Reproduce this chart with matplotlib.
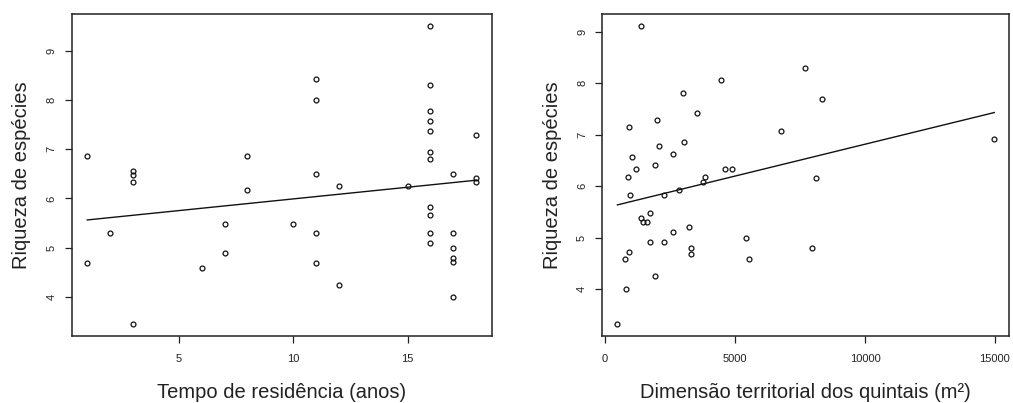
import numpy as np
import matplotlib
matplotlib.use("Agg")
import matplotlib.pyplot as plt

plt.rcParams['font.family'] = ['Liberation Sans', 'DejaVu Sans']

# Tempo de residência (anos) x riqueza
tempo = [1, 1, 2, 3, 3, 3, 3, 6, 7, 7, 8, 8, 10, 11, 11, 11, 11, 11, 12, 12, 15,
         16, 16, 16, 16, 16, 16, 16, 16, 16, 16, 16, 17, 17, 17, 17, 17, 17, 18, 18, 18]
riqueza_tempo = [6.86, 4.68, 5.30, 6.55, 6.48, 6.33, 3.45, 4.59, 5.48, 4.90, 6.87, 6.17,
                 5.48, 8.43, 8.00, 6.49, 5.30, 4.69, 6.25, 4.25, 6.25,
                 9.50, 8.31, 7.77, 7.57, 7.36, 6.95, 6.79, 5.82, 5.66, 5.30, 5.10,
                 6.49, 5.30, 5.00, 4.80, 4.70, 4.00, 7.28, 6.42, 6.34]

# Dimensão territorial (m²) x riqueza
area = [1370, 4476, 2980, 3542, 1982, 921, 3030, 2084, 2621, 1023, 1930, 1189, 4603,
        4872, 895, 3862, 3760, 2839, 2250, 959, 1714, 1369, 1458, 1598, 2621, 3222,
        5435, 1726, 2276, 3299, 3299, 921, 780, 5524, 1930, 818, 473, 7685, 8350,
        6765, 14975, 8133, 7967]
riqueza_area = [9.11, 8.06, 7.81, 7.42, 7.28, 7.14, 6.85, 6.78, 6.62, 6.56, 6.41, 6.33,
                6.33, 6.33, 6.17, 6.17, 6.08, 5.93, 5.82, 5.82, 5.47, 5.38, 5.30, 5.30,
                5.11, 5.20, 5.00, 4.91, 4.91, 4.80, 4.69, 4.71, 4.59, 4.59, 4.25, 4.01,
                3.32, 8.30, 7.69, 7.07, 6.92, 6.16, 4.80]

ticks_tempo = [5, 10, 15]
ticks_area = [0, 5000, 10000, 15000]
ticks_riqueza = [4, 5, 6, 7, 8, 9]

fig = plt.figure(figsize=(10.13, 4.03), dpi=100)
ax1 = fig.add_axes([0.0708, 0.1663, 0.4146, 0.799])
ax2 = fig.add_axes([0.5946, 0.1663, 0.4018, 0.799])

paineis = [
    (ax1, tempo, riqueza_tempo, ticks_tempo, 'Tempo de residência (anos)'),
    (ax2, area, riqueza_area, ticks_area, 'Dimensão territorial dos quintais (m²)'),
]

for ax, x, y, xt, rotulo in paineis:
    x = np.array(x, dtype=float)
    y = np.array(y, dtype=float)
    ax.plot(x, y, 'o', mfc='none', mec='#111111', ms=3.5, mew=0.9)
    # reta de regressão linear, do menor ao maior x
    b, a = np.polyfit(x, y, 1)
    xs = np.array([x.min(), x.max()])
    ax.plot(xs, a + b * xs, color='#111111', lw=1.0)
    # limites como o R (4% de folga)
    dx = (x.max() - x.min()) * 0.04
    dy = (y.max() - y.min()) * 0.04
    ax.set_xlim(x.min() - dx, x.max() + dx)
    ax.set_ylim(y.min() - dy, y.max() + dy)
    ax.set_xticks(xt)
    ax.set_yticks(ticks_riqueza)
    ax.tick_params(labelsize=8, length=5, width=0.9, colors='#222222')
    ax.tick_params(axis='x', pad=8)
    ax.tick_params(axis='y', pad=6)
    for lab in ax.get_yticklabels():
        lab.set_rotation(90)
        lab.set_va('center')
    for s in ax.spines.values():
        s.set_linewidth(1.1)
        s.set_color('#222222')
    ax.set_xlabel(rotulo, fontsize=14.5, color='#222222', labelpad=14)
    ax.set_ylabel('Riqueza de espécies', fontsize=14.5, color='#222222', labelpad=11)

fig.savefig('out.png', dpi=100)
